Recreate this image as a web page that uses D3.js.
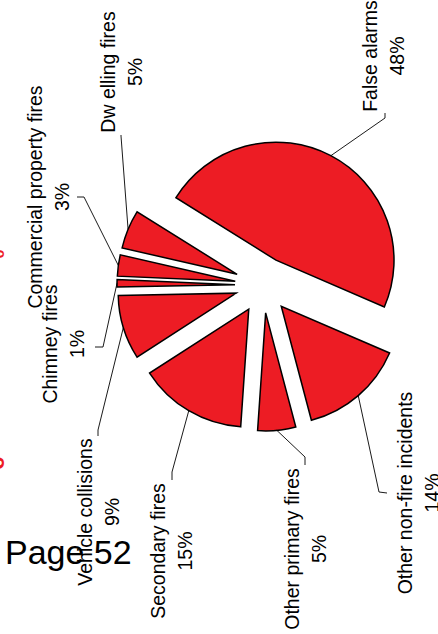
<!DOCTYPE html>
<meta charset="utf-8">
<script src="https://d3js.org/d3.v7.min.js"></script>
<style>
body{margin:0;background:#fff}
text{font-family:"Liberation Sans",Arial,sans-serif}
</style>
<div id="chart"></div>
<script>

// slices, clockwise from "False alarms"
var categories = ["False alarms","Other non-fire incidents","Other primary fires","Secondary fires",
	"Vehicle collisions","Chimney fires","Commercial property fires","Dw elling fires"]
var values = [47.6,14.4,5.2,14.8,8.8,1.0,2.9,5.3]
var percentLabels = values.map(function(v){return Math.round(v)+"%"})

// label placement: [baseline x of first line, centre y]
var labelPos = [[377,56],[412,493],[299,549],[165,551],[92,512],[57,344],[42,197],[115,72]]
// leader elbow and end points
var leaderEnds = [
	[[385,118],[385,113]],
	[[379,492],[387,493]],
	[[305,457],[305,465]],
	[[172,472],[172,480]],
	[[98,430],[98,436]],
	[[103,347],[95,347]],
	[[84,197],[77,197]],
	[[121,136],[121,135]]]

var width = 438
var height = 634
var cx = 263, cy = 285
var R = 118
var explode = 28
var start = -58*Math.PI/180
var fill = "#ed1c24"

var svg = d3.select("#chart").append("svg").attr("width",width).attr("height",height)

var pie = d3.pie().sort(null).value(function(d){return d})
	.startAngle(start).endAngle(start+2*Math.PI)
var arcs = pie(values)
var arc = d3.arc().innerRadius(0).outerRadius(R)

function mid(d){return (d.startAngle+d.endAngle)/2}

svg.append("g")
	.selectAll("path")
	.data(arcs)
	.join("path")
	.attr("d",arc)
	.attr("fill",fill)
	.attr("stroke","#000")
	.attr("stroke-width",1.5)
	.attr("transform",function(d){
		var a = mid(d)
		return "translate("+(cx+Math.sin(a)*explode)+","+(cy-Math.cos(a)*explode)+")"
	})

// leader lines
svg.append("g")
	.selectAll("path")
	.data(arcs)
	.join("path")
	.attr("fill","none")
	.attr("stroke","#000")
	.attr("stroke-width",0.9)
	.attr("d",function(d,i){
		var a = mid(d)
		var p0 = [cx+Math.sin(a)*(explode+R), cy-Math.cos(a)*(explode+R)]
		return d3.line()([p0,leaderEnds[i][0],leaderEnds[i][1]])
	})

// labels, rotated to read bottom to top
var labels = svg.append("g")
	.selectAll("text")
	.data(arcs)
	.join("text")
	.attr("transform",function(d,i){return "translate("+labelPos[i][0]+","+labelPos[i][1]+") rotate(-90)"})
	.attr("text-anchor","middle")
	.style("font-size","19.5px")
	.attr("fill","#000")

labels.append("tspan").attr("x",0).attr("y",0).text(function(d,i){return categories[i]})
labels.append("tspan").attr("x",0).attr("y",26.5).text(function(d,i){return percentLabels[i]})

// page furniture
svg.append("text").text("Page 52").attr("x",5).attr("y",564)
	.style("font-size","34px").attr("fill","#000")

// clipped red heading glyphs at the left edge
svg.append("text").text("o").attr("transform","translate(4,254) rotate(-90)")
	.attr("text-anchor","middle").style("font-size","14px").style("font-weight","bold").attr("fill",fill)
svg.append("text").text("o").attr("transform","translate(4,463) rotate(-90)")
	.attr("text-anchor","middle").style("font-size","22px").style("font-weight","bold").attr("fill",fill)

</script>
